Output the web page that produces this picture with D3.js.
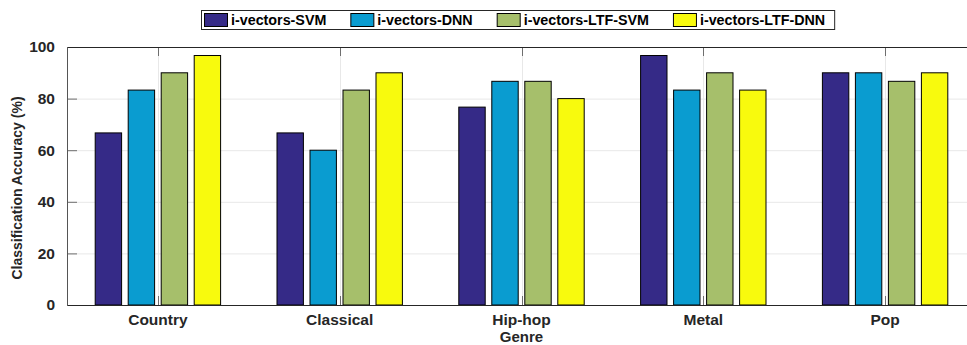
<!DOCTYPE html>
<html>
<head>
<meta charset="utf-8">
<script src="https://cdn.jsdelivr.net/npm/d3@7"></script>
<style>
    body { margin: 0; background: #fff; }
    svg { display: block; overflow: hidden; font-family: "Liberation Sans", Arial, sans-serif; }
    .tick-label { font-size: 15.5px; font-weight: bold; fill: #262626; }
</style>
</head>
<body>
<div id="chart"></div>
<script>
// data
const genres = ["Country", "Classical", "Hip-hop", "Metal", "Pop"];
const seriesNames = ["i-vectors-SVM", "i-vectors-DNN", "i-vectors-LTF-SVM", "i-vectors-LTF-DNN"];
const svmValues    = [66.7, 66.7, 76.7, 96.7, 90.0];
const dnnValues    = [83.3, 60.0, 86.7, 83.3, 90.0];
const ltfSvmValues = [90.0, 83.3, 86.7, 90.0, 86.7];
const ltfDnnValues = [96.7, 90.0, 80.0, 83.3, 90.0];
const yTicks = [0, 20, 40, 60, 80, 100];

const seriesValues = [svmValues, dnnValues, ltfSvmValues, ltfDnnValues];
const colors = ["#352a87", "#0a9cd0", "#a6bf6b", "#f8fa0d"];

const width = 967, height = 345;
// axes box (right edge runs past the window, as in the picture)
const plot = {left: 67, right: 976, top: 47, bottom: 305};

const svg = d3.select("#chart").append("svg")
    .attr("width", width)
    .attr("height", height);

const x0 = d3.scaleBand()
    .domain(genres)
    .range([plot.left, plot.right]);

const groupW = 132;
const x1 = d3.scaleBand()
    .domain(seriesNames)
    .range([0, groupW])
    .paddingInner(0.2)
    .paddingOuter(0.1);

const y = d3.scaleLinear()
    .domain([0, 100])
    .range([plot.bottom, plot.top]);

// grid
const grid = svg.append("g").attr("class", "grid");
grid.selectAll(".hgrid")
    .data(yTicks.filter(d => d > 0 && d < 100))
    .enter().append("line")
    .attr("x1", plot.left).attr("x2", plot.right)
    .attr("y1", d => y(d) + 0.5).attr("y2", d => y(d) + 0.5)
    .attr("stroke", "#e8e8e8").attr("stroke-width", 1);
grid.selectAll(".vgrid")
    .data(genres)
    .enter().append("line")
    .attr("x1", d => Math.round(x0(d) + x0.bandwidth() / 2) + 0.5)
    .attr("x2", d => Math.round(x0(d) + x0.bandwidth() / 2) + 0.5)
    .attr("y1", plot.top).attr("y2", plot.bottom)
    .attr("stroke", "#e8e8e8").attr("stroke-width", 1);

// ticks (inward)
const ticks = svg.append("g").attr("class", "ticks");
ticks.selectAll(".yt")
    .data(yTicks)
    .enter().append("line")
    .attr("x1", plot.left).attr("x2", plot.left + 10)
    .attr("y1", d => y(d) + 0.5).attr("y2", d => y(d) + 0.5)
    .attr("stroke", "#6e6e6e");
genres.forEach(g => {
    let cx = Math.round(x0(g) + x0.bandwidth() / 2) + 0.5;
    ticks.append("line")
        .attr("x1", cx).attr("x2", cx)
        .attr("y1", plot.top).attr("y2", plot.top + 9)
        .attr("stroke", "#6e6e6e");
    ticks.append("line")
        .attr("x1", cx).attr("x2", cx)
        .attr("y1", plot.bottom).attr("y2", plot.bottom - 9)
        .attr("stroke", "#6e6e6e");
});

// bars
const groups = svg.append("g").attr("class", "bars")
    .selectAll("g")
    .data(genres)
    .enter().append("g")
    .attr("transform", d => `translate(${x0(d) + x0.bandwidth() / 2 - groupW / 2},0)`);

groups.selectAll("rect")
    .data((g, gi) => seriesNames.map((s, si) => ({series: s, value: seriesValues[si][gi], color: colors[si]})))
    .enter().append("rect")
    .attr("x", d => x1(d.series))
    .attr("y", d => y(d.value))
    .attr("width", x1.bandwidth())
    .attr("height", d => plot.bottom - y(d.value))
    .attr("fill", d => d.color)
    .attr("stroke", "#000")
    .attr("stroke-width", 1);

// axes box
svg.append("line")
    .attr("x1", plot.left).attr("x2", plot.right)
    .attr("y1", plot.top + 0.5).attr("y2", plot.top + 0.5)
    .attr("stroke", "#262626");
svg.append("line")
    .attr("x1", plot.left).attr("x2", plot.right)
    .attr("y1", plot.bottom + 0.5).attr("y2", plot.bottom + 0.5)
    .attr("stroke", "#262626");
svg.append("line")
    .attr("x1", plot.left + 0.5).attr("x2", plot.left + 0.5)
    .attr("y1", plot.top).attr("y2", plot.bottom + 1)
    .attr("stroke", "#555");

// tick labels
svg.append("g").selectAll("text")
    .data(yTicks)
    .enter().append("text")
    .attr("class", "tick-label")
    .attr("x", plot.left - 12)
    .attr("y", d => y(d))
    .attr("dy", "0.35em")
    .attr("text-anchor", "end")
    .text(d => d);

svg.append("g").selectAll("text")
    .data(genres)
    .enter().append("text")
    .attr("class", "tick-label")
    .attr("x", d => x0(d) + x0.bandwidth() / 2)
    .attr("y", 325)
    .attr("text-anchor", "middle")
    .text(d => d);

// axis titles
svg.append("text")
    .attr("x", (plot.left + plot.right) / 2)
    .attr("y", 342)
    .attr("text-anchor", "middle")
    .style("font-size", "15px").style("font-weight", "bold").style("fill", "#262626")
    .text("Genre");

svg.append("text")
    .attr("transform", `translate(22,188) rotate(-90)`)
    .attr("text-anchor", "middle")
    .style("font-size", "14px").style("font-weight", "bold").style("fill", "#262626")
    .text("Classification Accuracy (%)");

// legend
const legend = svg.append("g").attr("class", "legend");
const legendBox = legend.append("rect")
    .attr("x", 201.5).attr("y", 10.5)
    .attr("height", 19)
    .attr("fill", "#fff")
    .attr("stroke", "#262626");

let lx = 204;
seriesNames.forEach((s, i) => {
    legend.append("rect")
        .attr("x", lx + 0.5).attr("y", 13.5)
        .attr("width", 23).attr("height", 13)
        .attr("fill", colors[i])
        .attr("stroke", "#000");
    let t = legend.append("text")
        .attr("x", lx + 27)
        .attr("y", 25)
        .style("font-size", "14.3px").style("font-weight", "bold").style("fill", "#000")
        .text(s);
    lx = lx + 27 + t.node().getComputedTextLength() + 24;
});
legendBox.attr("width", lx - 24 + 9 - 201);
</script>
</body>
</html>
